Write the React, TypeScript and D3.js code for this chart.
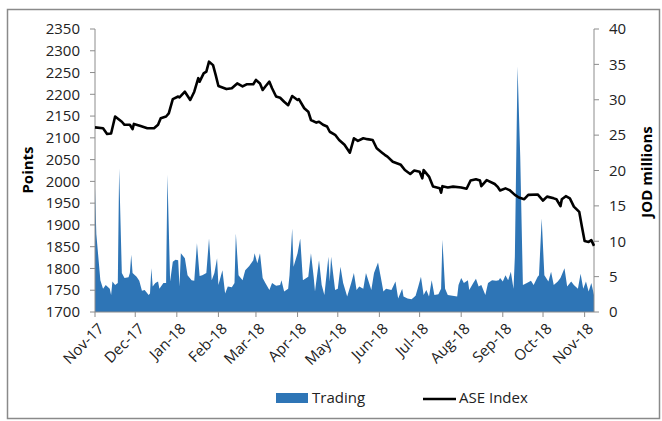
import * as d3 from "d3";

// ASE general index (points)
const indexDates = [
  "2017-11-01", "2017-11-07", "2017-11-10", "2017-11-13", "2017-11-16", "2017-11-21", "2017-11-23", "2017-11-27", "2017-11-29", "2017-11-30",
  "2017-12-05", "2017-12-10", "2017-12-15", "2017-12-18", "2017-12-20", "2017-12-24", "2017-12-26", "2017-12-29",
  "2018-01-02", "2018-01-03", "2018-01-07", "2018-01-11", "2018-01-14", "2018-01-17", "2018-01-18", "2018-01-21", "2018-01-23", "2018-01-25", "2018-01-28", "2018-01-30",
  "2018-02-01", "2018-02-07", "2018-02-11", "2018-02-15", "2018-02-19", "2018-02-22", "2018-02-27",
  "2018-03-01", "2018-03-04", "2018-03-06", "2018-03-08", "2018-03-11", "2018-03-13", "2018-03-16", "2018-03-19", "2018-03-22", "2018-03-25", "2018-03-28",
  "2018-04-01", "2018-04-02", "2018-04-06", "2018-04-09", "2018-04-11", "2018-04-15", "2018-04-17", "2018-04-20", "2018-04-23", "2018-04-25", "2018-04-29",
  "2018-05-02", "2018-05-06", "2018-05-10", "2018-05-13", "2018-05-16", "2018-05-20", "2018-05-23", "2018-05-27", "2018-05-30",
  "2018-06-03", "2018-06-05", "2018-06-07", "2018-06-11", "2018-06-17", "2018-06-20", "2018-06-24", "2018-06-27",
  "2018-07-01", "2018-07-03", "2018-07-04", "2018-07-08", "2018-07-11", "2018-07-16", "2018-07-17", "2018-07-18", "2018-07-22", "2018-07-26",
  "2018-08-01", "2018-08-05", "2018-08-08", "2018-08-12", "2018-08-15", "2018-08-16", "2018-08-20", "2018-08-26", "2018-08-28", "2018-08-30",
  "2018-09-03", "2018-09-06", "2018-09-10", "2018-09-13", "2018-09-17", "2018-09-20", "2018-09-27",
  "2018-10-01", "2018-10-04", "2018-10-09", "2018-10-11", "2018-10-14", "2018-10-15", "2018-10-18", "2018-10-21", "2018-10-24", "2018-10-28", "2018-10-30",
  "2018-11-01", "2018-11-04", "2018-11-06", "2018-11-08",
];
const indexValues = [
  2124, 2122, 2109, 2110, 2149, 2137, 2130, 2130, 2120, 2132,
  2127, 2122, 2122, 2130, 2145, 2149, 2156, 2189,
  2195, 2193, 2206, 2187, 2206, 2237, 2229, 2248, 2252, 2275, 2267, 2244,
  2219, 2212, 2214, 2225, 2218, 2223, 2223,
  2233, 2225, 2210, 2218, 2229, 2214, 2195, 2192, 2183, 2175, 2196,
  2187, 2189, 2168, 2160, 2141, 2135, 2137, 2130, 2126, 2114, 2107,
  2095, 2084, 2066, 2099, 2093, 2099, 2097, 2095, 2076,
  2066, 2061, 2057, 2045, 2038, 2026, 2017, 2025,
  2022, 2007, 2026, 2011, 1988, 1984, 1974, 1989, 1986, 1988,
  1986, 1983, 2002, 2005, 2002, 1989, 2003, 1994, 1988, 1979,
  1984, 1980, 1969, 1963, 1959, 1969, 1970,
  1956, 1965, 1961, 1959, 1943, 1959, 1966, 1961, 1942, 1930, 1896,
  1863, 1861, 1865, 1852,
];

// daily trading value (JOD millions)
const tradeDates = [
  "2017-11-01", "2017-11-02", "2017-11-05", "2017-11-07", "2017-11-09", "2017-11-12", "2017-11-13", "2017-11-14", "2017-11-16", "2017-11-18", "2017-11-19", "2017-11-21", "2017-11-23", "2017-11-26", "2017-11-27", "2017-11-28", "2017-11-29",
  "2017-12-02", "2017-12-04", "2017-12-06", "2017-12-08", "2017-12-11", "2017-12-12", "2017-12-13", "2017-12-14", "2017-12-16", "2017-12-18", "2017-12-19", "2017-12-22", "2017-12-24", "2017-12-25", "2017-12-27", "2017-12-29", "2017-12-31",
  "2018-01-02", "2018-01-03", "2018-01-04", "2018-01-07", "2018-01-09", "2018-01-12", "2018-01-14", "2018-01-16", "2018-01-18", "2018-01-20", "2018-01-23", "2018-01-25", "2018-01-27", "2018-01-29", "2018-01-31",
  "2018-02-01", "2018-02-04", "2018-02-06", "2018-02-08", "2018-02-11", "2018-02-13", "2018-02-14", "2018-02-16", "2018-02-19", "2018-02-21", "2018-02-24", "2018-02-27", "2018-02-28",
  "2018-03-02", "2018-03-04", "2018-03-06", "2018-03-08", "2018-03-11", "2018-03-13", "2018-03-16", "2018-03-19", "2018-03-20", "2018-03-22", "2018-03-25", "2018-03-26", "2018-03-28", "2018-03-29",
  "2018-04-01", "2018-04-03", "2018-04-05", "2018-04-09", "2018-04-11", "2018-04-13", "2018-04-14", "2018-04-17", "2018-04-19", "2018-04-21", "2018-04-24", "2018-04-25", "2018-04-26", "2018-04-29",
  "2018-05-01", "2018-05-03", "2018-05-05", "2018-05-08", "2018-05-11", "2018-05-13", "2018-05-15", "2018-05-17", "2018-05-20", "2018-05-22", "2018-05-26", "2018-05-28", "2018-05-31",
  "2018-06-02", "2018-06-04", "2018-06-06", "2018-06-10", "2018-06-13", "2018-06-15", "2018-06-18", "2018-06-19", "2018-06-22", "2018-06-25", "2018-06-28", "2018-06-30",
  "2018-07-02", "2018-07-04", "2018-07-06", "2018-07-08", "2018-07-10", "2018-07-12", "2018-07-15", "2018-07-17", "2018-07-18", "2018-07-20", "2018-07-22", "2018-07-29", "2018-07-30",
  "2018-08-01", "2018-08-03", "2018-08-06", "2018-08-07", "2018-08-10", "2018-08-12", "2018-08-14", "2018-08-16", "2018-08-19", "2018-08-21", "2018-08-24", "2018-08-27", "2018-08-29", "2018-08-30",
  "2018-09-01", "2018-09-03", "2018-09-05", "2018-09-07", "2018-09-09", "2018-09-10", "2018-09-12", "2018-09-14", "2018-09-16", "2018-09-19", "2018-09-22", "2018-09-24", "2018-09-27", "2018-09-28", "2018-09-30",
  "2018-10-02", "2018-10-05", "2018-10-07", "2018-10-09", "2018-10-12", "2018-10-14", "2018-10-17", "2018-10-19", "2018-10-22", "2018-10-24", "2018-10-27", "2018-10-29", "2018-10-31",
  "2018-11-02", "2018-11-04", "2018-11-06", "2018-11-08",
];
const tradeValues = [
  17.5, 11, 4.5, 3.3, 3.8, 3.3, 2.4, 4.3, 3.8, 4.1, 20.3, 5.5, 4.8, 4.9, 5.5, 8.1, 5.5,
  5.0, 4.4, 3.0, 3.1, 2.4, 2.6, 6.2, 3.6, 4.1, 4.3, 3.3, 4.1, 4.1, 19.4, 4.3, 7.1, 7.4,
  7.3, 3.6, 8.3, 7.6, 5.2, 4.5, 4.4, 9.7, 5.1, 5.2, 5.5, 10.4, 4.5, 5.5, 7.6,
  3.8, 5.9, 2.6, 3.6, 3.5, 4.1, 11.1, 5.2, 4.5, 5.9, 6.5, 7.3, 8.3,
  6.9, 8.3, 4.8, 4.1, 3.1, 4.1, 3.7, 3.8, 4.5, 2.9, 3.3, 5.2, 11.8, 6.4,
  8.3, 10.4, 4.5, 5.0, 8.3, 5.0, 2.9, 7.3, 3.8, 2.4, 7.8, 4.3, 7.8, 3.1,
  3.3, 6.4, 4.1, 2.2, 4.1, 5.5, 3.1, 3.6, 3.3, 5.5, 3.1, 5.5, 7.0,
  5.0, 2.9, 3.3, 3.1, 4.3, 1.9, 3.3, 2.2, 1.9, 1.8, 2.3, 3.6,
  5.0, 2.4, 3.1, 2.2, 4.5, 2.4, 2.5, 3.3, 10.2, 3.3, 2.4, 2.2, 3.8,
  4.8, 4.1, 4.5, 3.1, 4.1, 4.7, 3.6, 3.8, 2.4, 4.1, 4.5, 4.4, 4.5, 4.8,
  4.3, 5.2, 4.5, 5.7, 3.3, 7.8, 34.7, 22, 3.8, 4.1, 4.4, 3.8, 5.0, 5.2, 13.2,
  5.2, 4.3, 5.7, 3.8, 4.3, 4.8, 6.2, 3.6, 4.3, 3.8, 3.3, 5.4, 3.3,
  4.3, 2.9, 4.1, 2.4,
];

const pointTicks = d3.range(1700, 2351, 50);
const jodTicks = d3.range(0, 41, 5);
const startDate = "2017-11-01";
const endDate = "2018-11-08";

const W = 662;
const H = 421;
const plot = { left: 95, right: 594, top: 29, bottom: 312 };
const FONT = "'Open Sans', 'Liberation Sans', sans-serif";
const BLUE = "#2e75b6";
const AXIS = "#8c8c8c";

const parse = d3.timeParse("%Y-%m-%d");

export default function App() {
  const x = d3.scaleTime()
    .domain([parse(startDate)!, parse(endDate)!])
    .range([plot.left, plot.right]);
  const yLeft = d3.scaleLinear().domain([1700, 2350]).range([plot.bottom, plot.top]);
  const yRight = d3.scaleLinear().domain([0, 40]).range([plot.bottom, plot.top]);

  const trade = tradeDates.map((d, i) => ({ date: parse(d)!, v: tradeValues[i] }));
  const index = indexDates.map((d, i) => ({ date: parse(d)!, v: indexValues[i] }));

  const area = d3.area<{ date: Date; v: number }>()
    .x((d) => x(d.date))
    .y0(yRight(0))
    .y1((d) => yRight(d.v));
  const line = d3.line<{ date: Date; v: number }>()
    .x((d) => x(d.date))
    .y((d) => yLeft(d.v));

  const months = d3.timeMonth.range(parse(startDate)!, d3.timeDay.offset(parse(endDate)!, 1));
  const fmt = d3.timeFormat("%b-%y");

  return (
    <svg width={W} height={H} style={{ position: "absolute", left: 0, top: 0, background: "#fff" }} fontFamily={FONT}>
      <rect x={7.5} y={9.5} width={652} height={409} fill="none" stroke="#8a8a8a" strokeWidth={1.5} />

      <path d={area(trade) ?? ""} fill={BLUE} />

      {/* left axis */}
      <line x1={plot.left} x2={plot.left} y1={plot.top} y2={plot.bottom} stroke={AXIS} />
      {pointTicks.map((t) => (
        <g key={t}>
          <line x1={plot.left - 5} x2={plot.left} y1={yLeft(t)} y2={yLeft(t)} stroke={AXIS} />
          <text x={80} y={yLeft(t)} dy="0.35em" textAnchor="end" fontSize={15} fill="#222">{t}</text>
        </g>
      ))}

      {/* right axis */}
      <line x1={plot.right} x2={plot.right} y1={plot.top} y2={plot.bottom} stroke={AXIS} />
      {jodTicks.map((t) => (
        <g key={t}>
          <line x1={plot.right} x2={plot.right + 5} y1={yRight(t)} y2={yRight(t)} stroke={AXIS} />
          <text x={609} y={yRight(t)} dy="0.35em" textAnchor="start" fontSize={15} fill="#222">{t}</text>
        </g>
      ))}

      {/* bottom axis */}
      <line x1={plot.left} x2={plot.right} y1={plot.bottom} y2={plot.bottom} stroke={AXIS} />
      {months.map((m) => (
        <g key={m.toISOString()}>
          <line x1={x(m)} x2={x(m)} y1={plot.bottom} y2={plot.bottom + 5} stroke={AXIS} />
          <text
            transform={`translate(${x(m) + 6},${plot.bottom + 14}) rotate(-45)`}
            textAnchor="end"
            dy="0.35em"
            fontSize={15}
            fill="#222"
          >
            {fmt(m)}
          </text>
        </g>
      ))}

      <path d={line(index) ?? ""} fill="none" stroke="#000" strokeWidth={2.6} strokeLinejoin="round" />

      <text transform="translate(28,170) rotate(-90)" textAnchor="middle" dy="0.35em" fontSize={15} fontWeight="bold" fill="#000">Points</text>
      <text transform="translate(647,172) rotate(-90)" textAnchor="middle" dy="0.35em" fontSize={15} fontWeight="bold" fill="#000">JOD millions</text>

      {/* legend */}
      <rect x={276} y={393} width={32} height={10} fill={BLUE} />
      <text x={312} y={398} dy="0.35em" fontSize={15} fill="#222">Trading</text>
      <line x1={423} x2={456} y1={399} y2={399} stroke="#000" strokeWidth={2.6} />
      <text x={459} y={398} dy="0.35em" fontSize={15} fill="#222">ASE Index</text>
    </svg>
  );
}
